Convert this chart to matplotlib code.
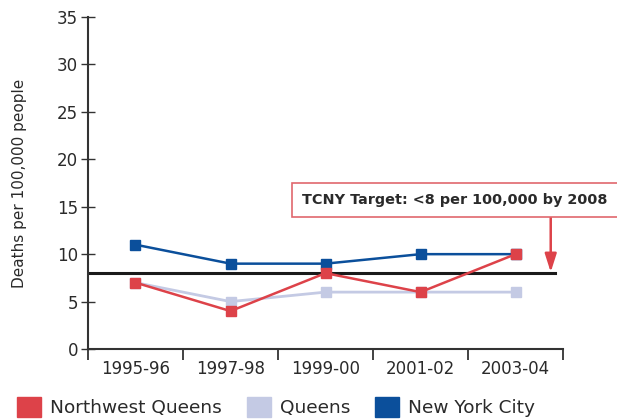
import matplotlib
matplotlib.use("Agg")
import matplotlib.pyplot as plt
from matplotlib.patches import Patch

# data
years = ["1995-96", "1997-98", "1999-00", "2001-02", "2003-04"]
nw_queens = [7, 4, 8, 6, 10]
queens = [7, 5, 6, 6, 6]
nyc = [11, 9, 9, 10, 10]
target = 8

red = "#dd4249"
light = "#c4cae4"
blue = "#0b4f9b"
txt = "#2a2a2a"

plt.rcParams["font.family"] = ["DejaVu Sans"]

fig = plt.figure(figsize=(6.17, 4.19), dpi=100)
ax = fig.add_axes([0.1426, 0.167, 0.77, 0.7924])

x = list(range(len(years)))

# target line
ax.plot([-0.5, 4.42], [target, target], color="#1a1a1a", lw=2.2, zorder=2)

ax.plot(x, queens, color=light, lw=2, marker="s", ms=7, zorder=3)
ax.plot(x, nyc, color=blue, lw=1.8, marker="s", ms=7, zorder=4)
ax.plot(x, nw_queens, color=red, lw=1.8, marker="s", ms=7, zorder=5)

ax.set_xlim(-0.5, 4.5)
ax.set_ylim(0, 35)
ax.set_yticks(range(0, 36, 5))
ax.set_xticks([i + 0.5 for i in range(-1, 5)], minor=False)
ax.set_xticklabels([])
ax.set_xticks(x, minor=True)
ax.set_xticklabels(years, minor=True)
ax.tick_params(axis="x", which="minor", length=0, pad=8, labelsize=12, labelcolor=txt)
ax.tick_params(axis="x", which="major", length=8, width=1.3, color="#333333", direction="out")
ax.tick_params(axis="y", length=10, width=1, color="#333333", direction="inout", labelsize=12, labelcolor=txt, pad=2)

for s in ["top", "right"]:
    ax.spines[s].set_visible(False)
for s in ["left", "bottom"]:
    ax.spines[s].set_color("#333333")
    ax.spines[s].set_linewidth(1.5)

ax.set_ylabel("Deaths per 100,000 people", fontsize=11, color=txt, labelpad=22)

# target callout
ax.annotate("", xy=(4.37, target + 0.1), xytext=(4.37, 13.9),
            arrowprops=dict(arrowstyle="-|>,head_length=1.1,head_width=0.35", color=red, lw=1.8,
                            shrinkA=0, shrinkB=0),
            zorder=6)
fig.text(0.490, 0.523, "TCNY Target: <8 per 100,000 by 2008", fontsize=10.4, fontweight="bold",
         color=txt, va="center", ha="left",
         bbox=dict(boxstyle="square,pad=0.7", fc="white", ec="#e0676d", lw=1.2))

handles = [Patch(color=red, label="Northwest Queens"),
           Patch(color=light, label="Queens"),
           Patch(color=blue, label="New York City")]
fig.legend(handles=handles, loc="lower left", bbox_to_anchor=(0.001, -0.035), ncol=3,
           frameon=False, fontsize=13.3, handlelength=1.3, handleheight=1.3,
           handletextpad=0.5, columnspacing=1.33, labelcolor=txt)

fig.savefig("out.png", dpi=100)
